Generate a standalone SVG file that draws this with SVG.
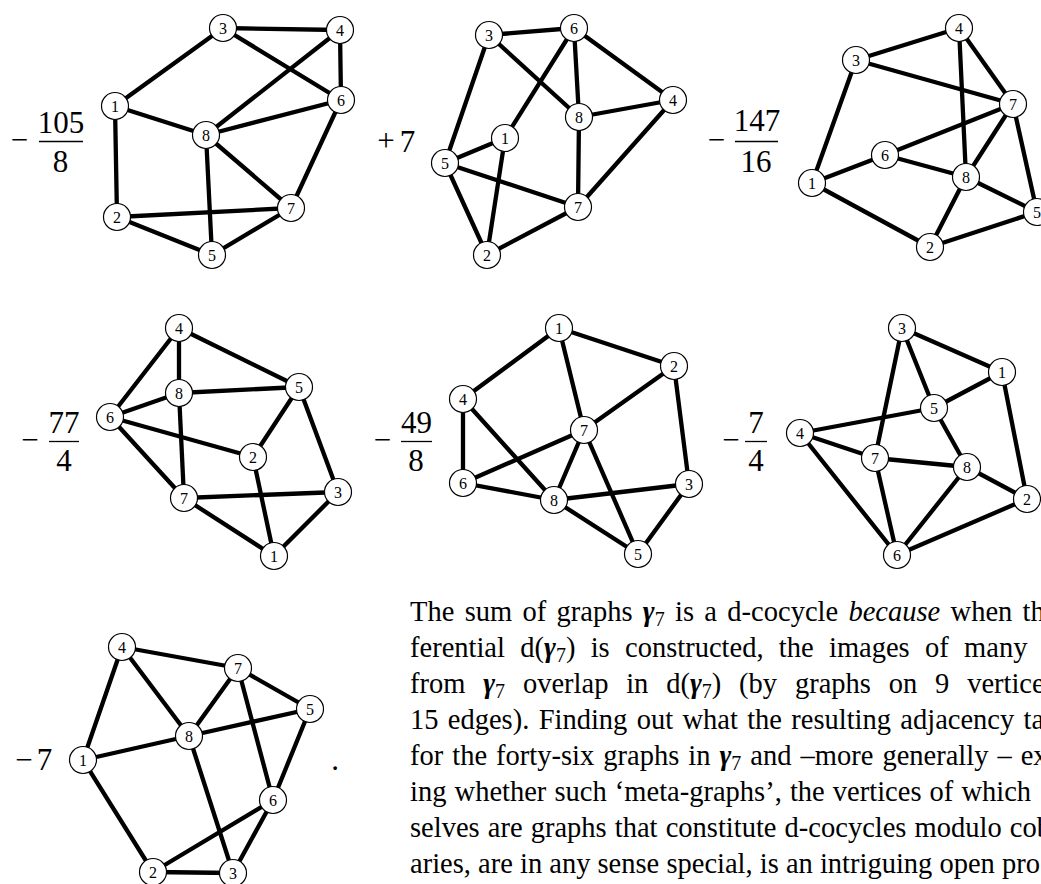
<svg xmlns="http://www.w3.org/2000/svg" width="1041" height="884" viewBox="0 0 1041 884">
<style>
.e line{stroke:#000;stroke-width:4.3;stroke-linecap:round}
.n circle{fill:#fff;stroke:#000;stroke-width:1.2}
.n text{font-family:"Liberation Serif","Times New Roman",serif;font-size:16px;text-anchor:middle;fill:#000}
.c{font-family:"Liberation Serif","Times New Roman",serif;font-size:31px;text-anchor:middle;fill:#000}
.bar{stroke:#000;stroke-width:1.3}
.p{font-family:"Liberation Serif","Times New Roman",serif;font-size:28.5px;fill:#000}
.bg{font-weight:bold;font-style:italic}
.sub{font-size:20px}
</style>
<rect width="1041" height="884" fill="#fff"/>
<g id="connectors" class="e">
<!-- graph 1 -->
<line x1="223" y1="28" x2="340" y2="30"/><line x1="223" y1="28" x2="115" y2="106"/><line x1="223" y1="28" x2="341" y2="100"/><line x1="340" y1="30" x2="206" y2="135"/><line x1="340" y1="30" x2="341" y2="100"/><line x1="115" y1="106" x2="206" y2="135"/><line x1="115" y1="106" x2="117" y2="217"/><line x1="206" y1="135" x2="341" y2="100"/><line x1="206" y1="135" x2="291" y2="208"/><line x1="206" y1="135" x2="212" y2="255"/><line x1="341" y1="100" x2="291" y2="208"/><line x1="117" y1="217" x2="291" y2="208"/><line x1="117" y1="217" x2="212" y2="255"/><line x1="212" y1="255" x2="291" y2="208"/>
<!-- graph 2 -->
<line x1="489" y1="35" x2="574" y2="28"/><line x1="489" y1="35" x2="445" y2="163"/><line x1="489" y1="35" x2="579" y2="117"/><line x1="574" y1="28" x2="505" y2="138"/><line x1="574" y1="28" x2="579" y2="117"/><line x1="574" y1="28" x2="673" y2="100"/><line x1="579" y1="117" x2="673" y2="100"/><line x1="579" y1="117" x2="578" y2="207"/><line x1="673" y1="100" x2="578" y2="207"/><line x1="505" y1="138" x2="445" y2="163"/><line x1="505" y1="138" x2="487" y2="255"/><line x1="445" y1="163" x2="578" y2="207"/><line x1="445" y1="163" x2="487" y2="255"/><line x1="487" y1="255" x2="578" y2="207"/>
<!-- graph 3 -->
<line x1="856" y1="60" x2="959" y2="28"/><line x1="856" y1="60" x2="1013" y2="104"/><line x1="856" y1="60" x2="812" y2="183"/><line x1="959" y1="28" x2="966" y2="177"/><line x1="959" y1="28" x2="1013" y2="104"/><line x1="1013" y1="104" x2="885" y2="155"/><line x1="1013" y1="104" x2="966" y2="177"/><line x1="1013" y1="104" x2="1037" y2="212"/><line x1="885" y1="155" x2="812" y2="183"/><line x1="885" y1="155" x2="966" y2="177"/><line x1="812" y1="183" x2="930" y2="247"/><line x1="966" y1="177" x2="930" y2="247"/><line x1="966" y1="177" x2="1037" y2="212"/><line x1="930" y1="247" x2="1037" y2="212"/>
<!-- graph 4 -->
<line x1="179" y1="328" x2="179" y2="393"/><line x1="179" y1="328" x2="110" y2="417"/><line x1="179" y1="328" x2="299" y2="387"/><line x1="179" y1="393" x2="110" y2="417"/><line x1="179" y1="393" x2="299" y2="387"/><line x1="179" y1="393" x2="184" y2="498"/><line x1="110" y1="417" x2="253" y2="457"/><line x1="110" y1="417" x2="184" y2="498"/><line x1="299" y1="387" x2="253" y2="457"/><line x1="299" y1="387" x2="338" y2="492"/><line x1="253" y1="457" x2="274" y2="556"/><line x1="184" y1="498" x2="338" y2="492"/><line x1="184" y1="498" x2="274" y2="556"/><line x1="338" y1="492" x2="274" y2="556"/>
<!-- graph 5 -->
<line x1="559" y1="328" x2="463" y2="399"/><line x1="559" y1="328" x2="584" y2="430"/><line x1="559" y1="328" x2="674" y2="366"/><line x1="674" y1="366" x2="584" y2="430"/><line x1="674" y1="366" x2="689" y2="484"/><line x1="463" y1="399" x2="463" y2="483"/><line x1="463" y1="399" x2="554" y2="500"/><line x1="584" y1="430" x2="463" y2="483"/><line x1="584" y1="430" x2="554" y2="500"/><line x1="584" y1="430" x2="638" y2="554"/><line x1="463" y1="483" x2="554" y2="500"/><line x1="554" y1="500" x2="689" y2="484"/><line x1="554" y1="500" x2="638" y2="554"/><line x1="689" y1="484" x2="638" y2="554"/>
<!-- graph 6 -->
<line x1="902" y1="328" x2="1002" y2="372"/><line x1="902" y1="328" x2="934" y2="408"/><line x1="902" y1="328" x2="875" y2="458"/><line x1="1002" y1="372" x2="934" y2="408"/><line x1="1002" y1="372" x2="1027" y2="499"/><line x1="934" y1="408" x2="800" y2="433"/><line x1="934" y1="408" x2="967" y2="467"/><line x1="800" y1="433" x2="875" y2="458"/><line x1="800" y1="433" x2="897" y2="555"/><line x1="875" y1="458" x2="967" y2="467"/><line x1="875" y1="458" x2="897" y2="555"/><line x1="967" y1="467" x2="1027" y2="499"/><line x1="967" y1="467" x2="897" y2="555"/><line x1="897" y1="555" x2="1027" y2="499"/>
<!-- graph 7 -->
<line x1="122" y1="647" x2="238" y2="668"/><line x1="122" y1="647" x2="83" y2="760"/><line x1="122" y1="647" x2="189" y2="736"/><line x1="238" y1="668" x2="189" y2="736"/><line x1="238" y1="668" x2="310" y2="709"/><line x1="238" y1="668" x2="273" y2="800"/><line x1="310" y1="709" x2="189" y2="736"/><line x1="310" y1="709" x2="273" y2="800"/><line x1="189" y1="736" x2="83" y2="760"/><line x1="189" y1="736" x2="233" y2="873"/><line x1="83" y1="760" x2="153" y2="872"/><line x1="153" y1="872" x2="273" y2="800"/><line x1="153" y1="872" x2="233" y2="873"/><line x1="273" y1="800" x2="233" y2="873"/>
</g>
<g id="graph1">
<g id="g1n1" class="n"><circle cx="115" cy="106" r="13.5"/><text x="115" y="111.5">1</text></g>
<g id="g1n2" class="n"><circle cx="117" cy="217" r="13.5"/><text x="117" y="222.5">2</text></g>
<g id="g1n3" class="n"><circle cx="223" cy="28" r="13.5"/><text x="223" y="33.5">3</text></g>
<g id="g1n4" class="n"><circle cx="340" cy="30" r="13.5"/><text x="340" y="35.5">4</text></g>
<g id="g1n5" class="n"><circle cx="212" cy="255" r="13.5"/><text x="212" y="260.5">5</text></g>
<g id="g1n6" class="n"><circle cx="341" cy="100" r="13.5"/><text x="341" y="105.5">6</text></g>
<g id="g1n7" class="n"><circle cx="291" cy="208" r="13.5"/><text x="291" y="213.5">7</text></g>
<g id="g1n8" class="n"><circle cx="206" cy="135" r="13.5"/><text x="206" y="140.5">8</text></g>
</g>
<g id="graph2">
<g id="g2n1" class="n"><circle cx="505" cy="138" r="13.5"/><text x="505" y="143.5">1</text></g>
<g id="g2n2" class="n"><circle cx="487" cy="255" r="13.5"/><text x="487" y="260.5">2</text></g>
<g id="g2n3" class="n"><circle cx="489" cy="35" r="13.5"/><text x="489" y="40.5">3</text></g>
<g id="g2n4" class="n"><circle cx="673" cy="100" r="13.5"/><text x="673" y="105.5">4</text></g>
<g id="g2n5" class="n"><circle cx="445" cy="163" r="13.5"/><text x="445" y="168.5">5</text></g>
<g id="g2n6" class="n"><circle cx="574" cy="28" r="13.5"/><text x="574" y="33.5">6</text></g>
<g id="g2n7" class="n"><circle cx="578" cy="207" r="13.5"/><text x="578" y="212.5">7</text></g>
<g id="g2n8" class="n"><circle cx="579" cy="117" r="13.5"/><text x="579" y="122.5">8</text></g>
</g>
<g id="graph3">
<g id="g3n1" class="n"><circle cx="812" cy="183" r="13.5"/><text x="812" y="188.5">1</text></g>
<g id="g3n2" class="n"><circle cx="930" cy="247" r="13.5"/><text x="930" y="252.5">2</text></g>
<g id="g3n3" class="n"><circle cx="856" cy="60" r="13.5"/><text x="856" y="65.5">3</text></g>
<g id="g3n4" class="n"><circle cx="959" cy="28" r="13.5"/><text x="959" y="33.5">4</text></g>
<g id="g3n5" class="n"><circle cx="1037" cy="212" r="13.5"/><text x="1037" y="217.5">5</text></g>
<g id="g3n6" class="n"><circle cx="885" cy="155" r="13.5"/><text x="885" y="160.5">6</text></g>
<g id="g3n7" class="n"><circle cx="1013" cy="104" r="13.5"/><text x="1013" y="109.5">7</text></g>
<g id="g3n8" class="n"><circle cx="966" cy="177" r="13.5"/><text x="966" y="182.5">8</text></g>
</g>
<g id="graph4">
<g id="g4n1" class="n"><circle cx="274" cy="556" r="13.5"/><text x="274" y="561.5">1</text></g>
<g id="g4n2" class="n"><circle cx="253" cy="457" r="13.5"/><text x="253" y="462.5">2</text></g>
<g id="g4n3" class="n"><circle cx="338" cy="492" r="13.5"/><text x="338" y="497.5">3</text></g>
<g id="g4n4" class="n"><circle cx="179" cy="328" r="13.5"/><text x="179" y="333.5">4</text></g>
<g id="g4n5" class="n"><circle cx="299" cy="387" r="13.5"/><text x="299" y="392.5">5</text></g>
<g id="g4n6" class="n"><circle cx="110" cy="417" r="13.5"/><text x="110" y="422.5">6</text></g>
<g id="g4n7" class="n"><circle cx="184" cy="498" r="13.5"/><text x="184" y="503.5">7</text></g>
<g id="g4n8" class="n"><circle cx="179" cy="393" r="13.5"/><text x="179" y="398.5">8</text></g>
</g>
<g id="graph5">
<g id="g5n1" class="n"><circle cx="559" cy="328" r="13.5"/><text x="559" y="333.5">1</text></g>
<g id="g5n2" class="n"><circle cx="674" cy="366" r="13.5"/><text x="674" y="371.5">2</text></g>
<g id="g5n3" class="n"><circle cx="689" cy="484" r="13.5"/><text x="689" y="489.5">3</text></g>
<g id="g5n4" class="n"><circle cx="463" cy="399" r="13.5"/><text x="463" y="404.5">4</text></g>
<g id="g5n5" class="n"><circle cx="638" cy="554" r="13.5"/><text x="638" y="559.5">5</text></g>
<g id="g5n6" class="n"><circle cx="463" cy="483" r="13.5"/><text x="463" y="488.5">6</text></g>
<g id="g5n7" class="n"><circle cx="584" cy="430" r="13.5"/><text x="584" y="435.5">7</text></g>
<g id="g5n8" class="n"><circle cx="554" cy="500" r="13.5"/><text x="554" y="505.5">8</text></g>
</g>
<g id="graph6">
<g id="g6n1" class="n"><circle cx="1002" cy="372" r="13.5"/><text x="1002" y="377.5">1</text></g>
<g id="g6n2" class="n"><circle cx="1027" cy="499" r="13.5"/><text x="1027" y="504.5">2</text></g>
<g id="g6n3" class="n"><circle cx="902" cy="328" r="13.5"/><text x="902" y="333.5">3</text></g>
<g id="g6n4" class="n"><circle cx="800" cy="433" r="13.5"/><text x="800" y="438.5">4</text></g>
<g id="g6n5" class="n"><circle cx="934" cy="408" r="13.5"/><text x="934" y="413.5">5</text></g>
<g id="g6n6" class="n"><circle cx="897" cy="555" r="13.5"/><text x="897" y="560.5">6</text></g>
<g id="g6n7" class="n"><circle cx="875" cy="458" r="13.5"/><text x="875" y="463.5">7</text></g>
<g id="g6n8" class="n"><circle cx="967" cy="467" r="13.5"/><text x="967" y="472.5">8</text></g>
</g>
<g id="graph7">
<g id="g7n1" class="n"><circle cx="83" cy="760" r="13.5"/><text x="83" y="765.5">1</text></g>
<g id="g7n2" class="n"><circle cx="153" cy="872" r="13.5"/><text x="153" y="877.5">2</text></g>
<g id="g7n3" class="n"><circle cx="233" cy="873" r="13.5"/><text x="233" y="878.5">3</text></g>
<g id="g7n4" class="n"><circle cx="122" cy="647" r="13.5"/><text x="122" y="652.5">4</text></g>
<g id="g7n5" class="n"><circle cx="310" cy="709" r="13.5"/><text x="310" y="714.5">5</text></g>
<g id="g7n6" class="n"><circle cx="273" cy="800" r="13.5"/><text x="273" y="805.5">6</text></g>
<g id="g7n7" class="n"><circle cx="238" cy="668" r="13.5"/><text x="238" y="673.5">7</text></g>
<g id="g7n8" class="n"><circle cx="189" cy="736" r="13.5"/><text x="189" y="741.5">8</text></g>
</g>
<g id="coefficients">
<text class="c" x="19.5" y="150">−</text><text class="c" x="61" y="133">105</text><line class="bar" x1="39" y1="141.5" x2="83" y2="141.5"/><text class="c" x="60.5" y="172">8</text>
<text class="c" x="386" y="151">+</text><text class="c" x="407.5" y="152">7</text>
<text class="c" x="716.5" y="150">−</text><text class="c" x="757" y="131">147</text><line class="bar" x1="735" y1="141.5" x2="778" y2="141.5"/><text class="c" x="756" y="172">16</text>
<text class="c" x="30" y="450">−</text><text class="c" x="64" y="433">77</text><line class="bar" x1="49" y1="441.5" x2="79" y2="441.5"/><text class="c" x="64" y="471">4</text>
<text class="c" x="382.5" y="450">−</text><text class="c" x="416.5" y="433">49</text><line class="bar" x1="401" y1="441.5" x2="432" y2="441.5"/><text class="c" x="416" y="471">8</text>
<text class="c" x="731" y="450">−</text><text class="c" x="756" y="433">7</text><line class="bar" x1="745" y1="441.5" x2="767" y2="441.5"/><text class="c" x="756" y="471">4</text>
<text class="c" x="24" y="770">−</text><text class="c" x="44.5" y="770">7</text>
<text class="c" x="335" y="770">.</text>
</g>
<g id="paragraph" class="p">
<text x="410" y="621" word-spacing="3.2">The sum of graphs <tspan class="bg">γ</tspan><tspan class="sub" dy="5">7</tspan><tspan dy="-5"> is a d-cocycle </tspan><tspan font-style="italic">because</tspan> when th</text>
<text x="410" y="657" word-spacing="8.2">ferential d(<tspan class="bg">γ</tspan><tspan class="sub" dy="5">7</tspan><tspan dy="-5">) is constructed, the images of many</tspan></text>
<text x="410" y="693" word-spacing="10.7">from <tspan class="bg">γ</tspan><tspan class="sub" dy="5">7</tspan><tspan dy="-5"> overlap in d(</tspan><tspan class="bg">γ</tspan><tspan class="sub" dy="5">7</tspan><tspan dy="-5">) (by graphs on 9 vertices</tspan></text>
<text x="410" y="729" word-spacing="2.2">15 edges). Finding out what the resulting adjacency ta</text>
<text x="410" y="765" word-spacing="1.9">for the forty-six graphs in <tspan class="bg">γ</tspan><tspan class="sub" dy="5">7</tspan><tspan dy="-5"> and –more generally – ex</tspan></text>
<text x="410" y="801" word-spacing="1">ing whether such ‘meta-graphs’, the vertices of which</text>
<text x="410" y="837" word-spacing="1">selves are graphs that constitute d-cocycles modulo cob</text>
<text x="410" y="873" word-spacing="0">aries, are in any sense special, is an intriguing open pro</text>
</g>
</svg>
